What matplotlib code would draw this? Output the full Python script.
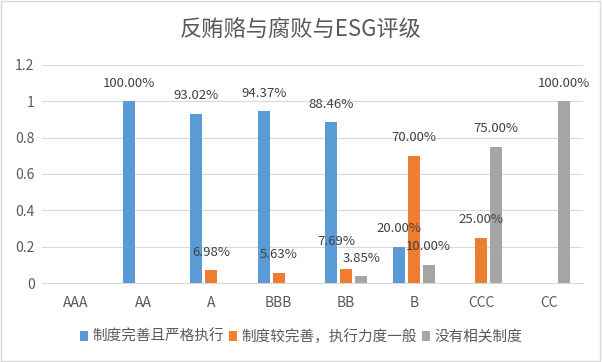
import numpy as np
import matplotlib.pyplot as plt
from matplotlib.ticker import FuncFormatter

plt.rcParams['font.family'] = ['Noto Sans CJK SC', 'DejaVu Sans']

categories = ["AAA", "AA", "A", "BBB", "BB", "B", "CCC", "CC"]
strict = [0, 1.0, 0.9302, 0.9437, 0.8846, 0.20, 0, 0]
moderate = [0, 0, 0.0698, 0.0563, 0.0769, 0.70, 0.25, 0]
none_ = [0, 0, 0, 0, 0.0385, 0.10, 0.75, 1.0]
series_names = ["制度完善且严格执行", "制度较完善，执行力度一般", "没有相关制度"]
colors = ["#5B9BD5", "#ED7D31", "#A5A5A5"]

fig = plt.figure(figsize=(6.02, 3.62), dpi=100)
ax = fig.add_axes([0.07, 0.218, 0.898, 0.603])

x = np.arange(len(categories))
width = 0.18
offsets = [-0.22, 0, 0.22]
text_color = "#595959"

for si, (vals, off, col, name) in enumerate(zip([strict, moderate, none_], offsets, colors, series_names)):
    bars = ax.bar(x + off, vals, width, color=col, label=name, zorder=3)
    for ci, (b, v) in enumerate(zip(bars, vals)):
        if v > 0:
            dx, dy = 0, 18
            # Excel nudged this label to avoid the neighbour
            if si == 1 and categories[ci] == "BB":
                dx, dy = -10, 28
            ax.annotate(f"{v*100:.2f}%", (b.get_x() + b.get_width() / 2, v),
                        xytext=(dx, dy), textcoords="offset pixels",
                        ha="center", va="center", fontsize=9.5, color="#404040", zorder=4)

ax.set_xlim(-0.5, len(categories) - 0.5)
ax.set_ylim(0, 1.2)
ax.set_yticks(np.arange(0, 1.21, 0.2))
ax.yaxis.set_major_formatter(FuncFormatter(lambda v, p: f"{v:g}"))
ax.set_xticks(x)
ax.set_xticklabels(categories)
ax.tick_params(axis="both", length=0, labelsize=10, colors=text_color)
ax.tick_params(axis="y", pad=5.5)
ax.tick_params(axis="x", pad=9)
ax.grid(axis="y", color="#D9D9D9", linewidth=0.8, zorder=0)
for s in ["top", "right", "left"]:
    ax.spines[s].set_visible(False)
ax.spines["bottom"].set_color("#D9D9D9")

fig.suptitle("反贿赂与腐败与ESG评级", y=0.95, fontsize=16, color=text_color)

fig.legend(loc="center", bbox_to_anchor=(0.5, 0.07), ncol=3, frameon=False,
           fontsize=10.5, labelcolor=text_color, handlelength=0.6, handleheight=0.6,
           handletextpad=0.3, columnspacing=0.3)

fig.patches.append(plt.Rectangle((0.002, 0.003), 0.995, 0.993, transform=fig.transFigure,
                                 fill=False, edgecolor="#D9D9D9", linewidth=1))

fig.savefig("out.png", dpi=100)
